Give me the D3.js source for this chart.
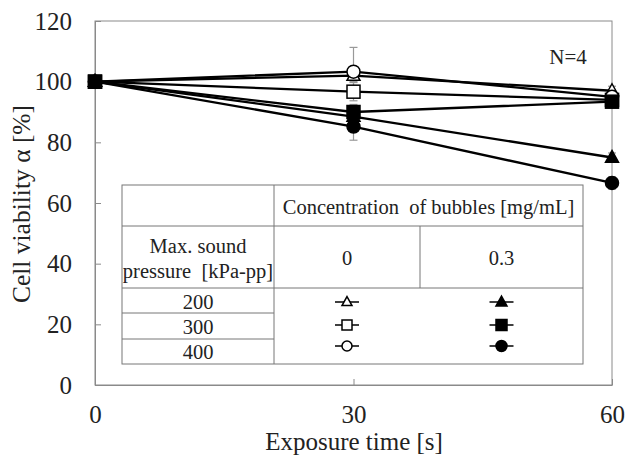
<!DOCTYPE html>
<html>
<head>
<meta charset="utf-8">
<script src="https://cdn.jsdelivr.net/npm/d3@7"></script>
<style>
  body { margin: 0; background: #fff; }
  svg text { font-family: "Liberation Serif", "Times New Roman", "DejaVu Serif", serif !important; fill: #222; white-space: pre; }
</style>
</head>
<body>
<svg id="chart" width="627" height="459"></svg>
<script>
// values
const times = [0, 30, 60];
const yTicks = [0, 20, 40, 60, 80, 100, 120];
const open200 = [100, 102, 97];
const open300 = [100, 96.7, 94];
const open400 = [100, 103.3, 95];
const filled200 = [100, 88.5, 75];
const filled300 = [100, 90, 93.4];
const filled400 = [100, 85.2, 66.6];
const errOpen200 = [0, 2, 1.5];
const errOpen300 = [0, 3, 2];
const errOpen400 = [0, 8, 2];
const errFilled200 = [0, 2, 1.5];
const errFilled300 = [0, 2.5, 2];
const errFilled400 = [0, 4.5, 2];
const pressures = ["200", "300", "400"];
const concentrations = ["0", "0.3"];

const series = [
  {name: "open200", values: open200, err: errOpen200, shape: "triangle", filled: false},
  {name: "filled200", values: filled200, err: errFilled200, shape: "triangle", filled: true},
  {name: "open300", values: open300, err: errOpen300, shape: "square", filled: false},
  {name: "open400", values: open400, err: errOpen400, shape: "circle", filled: false},
  {name: "filled400", values: filled400, err: errFilled400, shape: "circle", filled: true},
  {name: "filled300", values: filled300, err: errFilled300, shape: "square", filled: true}
];

const FONT = "'Liberation Serif', 'Times New Roman', 'DejaVu Serif', serif";
const svg = d3.select("#chart").attr("font-family", FONT);
const pL = 95, pR = 612, pT = 21, pB = 385;

const x = d3.scaleLinear().domain([0, 60]).range([pL, pR]);
const y = d3.scaleLinear().domain([0, 120]).range([pB, pT]);

const axisColor = "#8a8a8a";

// frame
svg.append("rect")
  .attr("x", pL).attr("y", pT)
  .attr("width", pR - pL).attr("height", pB - pT)
  .attr("fill", "none").attr("stroke", axisColor).attr("stroke-width", 1);

// y axis
const yAxis = svg.append("g")
  .attr("transform", `translate(${pL},0)`)
  .call(d3.axisLeft(y).tickValues(yTicks).tickSizeInner(-6).tickSizeOuter(0).tickPadding(23));
yAxis.attr("font-family", FONT);
yAxis.select(".domain").attr("stroke", axisColor);
yAxis.selectAll(".tick line").attr("stroke", axisColor);
yAxis.selectAll("text").style("font-size", "25px").attr("fill", "#222");

// x axis
const xAxis = svg.append("g")
  .attr("transform", `translate(0,${pB})`)
  .call(d3.axisBottom(x).tickValues(times).tickSizeInner(-6).tickSizeOuter(0).tickPadding(20));
xAxis.attr("font-family", FONT);
xAxis.select(".domain").attr("stroke", axisColor);
xAxis.selectAll(".tick line").attr("stroke", axisColor);
xAxis.selectAll("text").style("font-size", "25px").attr("fill", "#222");

// axis titles
svg.append("text")
  .attr("x", 354).attr("y", 450)
  .attr("text-anchor", "middle")
  .style("font-size", "25px")
  .text("Exposure time [s]");

svg.append("text")
  .attr("transform", "translate(30,204) rotate(-90)")
  .attr("text-anchor", "middle")
  .style("font-size", "25.5px")
  .text("Cell viability α [%]");

svg.append("text")
  .attr("x", 568).attr("y", 64)
  .attr("text-anchor", "middle")
  .style("font-size", "21px")
  .text("N=4");

// legend table
const tbl = svg.append("g");
const tL = 122, tR = 583, tT = 185, tB = 364, c1 = 274, c2 = 420, r1 = 226, r2 = 288;
const rowLines = [313, 339];
const line = (x1, y1, x2, y2) => tbl.append("line")
  .attr("x1", x1).attr("y1", y1).attr("x2", x2).attr("y2", y2)
  .attr("stroke", "#777").attr("stroke-width", 1);

tbl.append("rect").attr("x", tL).attr("y", tT).attr("width", tR - tL).attr("height", tB - tT)
  .attr("fill", "#fff").attr("stroke", "#777").attr("stroke-width", 1);
line(c1, tT, c1, tB);
line(tL, r1, tR, r1);
line(tL, r2, tR, r2);
line(c2, r1, c2, r2);
rowLines.forEach(ry => line(tL, ry, c1, ry));

const tText = (tx, ty, s, size) => tbl.append("text")
  .attr("x", tx).attr("y", ty).attr("text-anchor", "middle")
  .attr("dominant-baseline", "central")
  .style("font-size", size + "px").text(s);

tText((c1 + tR) / 2, 207, "Concentration  of bubbles [mg/mL]", 20.5);
tText((tL + c1) / 2, 246, "Max. sound", 20.5);
tText((tL + c1) / 2, 271, "pressure  [kPa-pp]", 20.5);
tText((c1 + c2) / 2, 258, concentrations[0], 20.5);
tText((c2 + tR) / 2, 258, concentrations[1], 20.5);
const rowY = [302, 327, 352];
pressures.forEach((p, i) => tText((tL + c1) / 2, rowY[i], p, 20.5));

// markers
function marker(g, shape, filled, size) {
  let el;
  if (shape === "circle") {
    el = g.append("circle").attr("r", size / 2);
  } else if (shape === "square") {
    el = g.append("rect").attr("x", -size / 2).attr("y", -size / 2)
      .attr("width", size).attr("height", size);
  } else {
    const h = size * 0.9;
    el = g.append("path")
      .attr("d", `M0,${-h * 0.6}L${size / 2},${h * 0.4}L${-size / 2},${h * 0.4}Z`);
  }
  el.attr("fill", filled ? "#000" : "#fff").attr("stroke", "#000").attr("stroke-width", 1.5);
}

// legend symbols
const legendX = [(c1 + c2) / 2, (c2 + tR) / 2];
const legY = [302, 325, 346];
const legShapes = ["triangle", "square", "circle"];
legShapes.forEach((shape, i) => {
  [false, true].forEach((filled, j) => {
    const g = tbl.append("g").attr("transform", `translate(${legendX[j]},${legY[i]})`);
    g.append("line").attr("x1", -12).attr("x2", 12).attr("stroke", "#000").attr("stroke-width", 1.5);
    marker(g, shape, filled, filled ? 11 : 10);
  });
});

// error bars
const plot = svg.append("g");
series.forEach(s => {
  s.values.forEach((v, i) => {
    const e = s.err[i];
    if (!e) return;
    const cx = x(times[i]);
    plot.append("line").attr("x1", cx).attr("x2", cx).attr("y1", y(v - e)).attr("y2", y(v + e))
      .attr("stroke", "#999").attr("stroke-width", 1.2);
    [v - e, v + e].forEach(ev => plot.append("line")
      .attr("x1", cx - 4).attr("x2", cx + 4).attr("y1", y(ev)).attr("y2", y(ev))
      .attr("stroke", "#999").attr("stroke-width", 1.2));
  });
});

// lines
const lineGen = d3.line().x((d, i) => x(times[i])).y(d => y(d));
series.forEach(s => {
  plot.append("path").datum(s.values)
    .attr("d", lineGen)
    .attr("fill", "none").attr("stroke", "#000").attr("stroke-width", 2.3);
});

// points
series.forEach(s => {
  s.values.forEach((v, i) => {
    const g = plot.append("g").attr("transform", `translate(${x(times[i])},${y(v)})`);
    marker(g, s.shape, s.filled, 13);
  });
});
</script>
</body>
</html>
